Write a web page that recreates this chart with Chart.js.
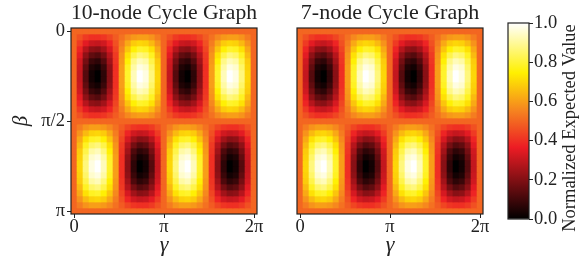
<!DOCTYPE html>
<html>
<head>
<meta charset="utf-8">
<script src="https://cdn.jsdelivr.net/npm/chart.js@4.4.1/dist/chart.umd.min.js"></script>
<style>
  html, body { margin: 0; padding: 0; background: #fff; }
  #wrap { position: relative; width: 585px; height: 260px; }
  .box { position: absolute; top: 0; height: 260px; }
</style>
</head>
<body>
<div id="wrap">
  <div class="box" style="left:0;width:270px"><canvas id="left" width="270" height="260"></canvas></div>
  <div class="box" style="left:270px;width:225px"><canvas id="right" width="225" height="260"></canvas></div>
  <div class="box" style="left:495px;width:90px"><canvas id="cbar" width="90" height="260"></canvas></div>
</div>
<script>
// tick positions are grid indices (31 x 31 grid, gamma 0..2pi, beta 0..pi)
const gammaTickIndex = [0, 15, 30];
const gammaTickLabels = ['0', 'π', '2π'];
const betaTickIndex = [0, 15, 30];
const betaTickLabels = ['0', 'π/2', 'π'];
const cbarTicks = [0, 0.2, 0.4, 0.6, 0.8, 1.0];
const panelTitles = ['10-node Cycle Graph', '7-node Cycle Graph'];
const cbarLabel = 'Normalized Expected Value';

// rows = beta (top to bottom), columns = gamma (left to right)
const cycle10Values = [
  [.50,.50,.50,.50,.50,.50,.50,.50,.50,.50,.50,.50,.50,.50,.50,.50,.50,.50,.50,.50,.50,.50,.50,.50,.50,.50,.50,.50,.50,.50,.50],
  [.50,.46,.42,.40,.40,.41,.44,.48,.52,.56,.59,.60,.60,.58,.54,.50,.46,.42,.40,.40,.41,.44,.48,.52,.56,.59,.60,.60,.58,.54,.50],
  [.50,.42,.35,.31,.30,.32,.38,.46,.54,.62,.68,.70,.69,.65,.58,.50,.42,.35,.31,.30,.32,.38,.46,.54,.62,.68,.70,.69,.65,.58,.50],
  [.50,.38,.28,.22,.21,.25,.33,.44,.56,.67,.75,.79,.78,.72,.62,.50,.38,.28,.22,.21,.25,.33,.44,.56,.67,.75,.79,.78,.72,.62,.50],
  [.50,.35,.22,.15,.13,.18,.28,.42,.58,.72,.82,.87,.85,.78,.65,.50,.35,.22,.15,.13,.18,.28,.42,.58,.72,.82,.87,.85,.78,.65,.50],
  [.50,.32,.18,.09,.07,.13,.25,.41,.59,.75,.88,.93,.91,.82,.68,.50,.32,.18,.09,.07,.13,.25,.41,.59,.75,.88,.93,.91,.82,.68,.50],
  [.50,.31,.15,.05,.03,.09,.22,.40,.60,.78,.91,.97,.95,.85,.69,.50,.31,.15,.05,.03,.09,.22,.40,.60,.78,.91,.97,.95,.85,.69,.50],
  [.50,.30,.13,.03,.00,.07,.21,.40,.60,.79,.93,1.0,.97,.87,.70,.50,.30,.13,.03,.00,.07,.21,.40,.60,.79,.93,1.0,.97,.87,.70,.50],
  [.50,.30,.13,.03,.00,.07,.21,.40,.60,.79,.93,1.0,.97,.87,.70,.50,.30,.13,.03,.00,.07,.21,.40,.60,.79,.93,1.0,.97,.87,.70,.50],
  [.50,.31,.15,.05,.03,.09,.22,.40,.60,.78,.91,.97,.95,.85,.69,.50,.31,.15,.05,.03,.09,.22,.40,.60,.78,.91,.97,.95,.85,.69,.50],
  [.50,.32,.18,.09,.07,.13,.25,.41,.59,.75,.88,.93,.91,.82,.68,.50,.32,.18,.09,.07,.13,.25,.41,.59,.75,.88,.93,.91,.82,.68,.50],
  [.50,.35,.22,.15,.13,.18,.28,.42,.58,.72,.82,.87,.85,.78,.65,.50,.35,.22,.15,.13,.18,.28,.42,.58,.72,.82,.87,.85,.78,.65,.50],
  [.50,.38,.28,.22,.21,.25,.33,.44,.56,.67,.75,.79,.78,.72,.62,.50,.38,.28,.22,.21,.25,.33,.44,.56,.67,.75,.79,.78,.72,.62,.50],
  [.50,.42,.35,.31,.30,.32,.38,.46,.54,.62,.68,.70,.69,.65,.58,.50,.42,.35,.31,.30,.32,.38,.46,.54,.62,.68,.70,.69,.65,.58,.50],
  [.50,.46,.42,.40,.40,.41,.44,.48,.52,.56,.59,.60,.60,.58,.54,.50,.46,.42,.40,.40,.41,.44,.48,.52,.56,.59,.60,.60,.58,.54,.50],
  [.50,.50,.50,.50,.50,.50,.50,.50,.50,.50,.50,.50,.50,.50,.50,.50,.50,.50,.50,.50,.50,.50,.50,.50,.50,.50,.50,.50,.50,.50,.50],
  [.50,.54,.58,.60,.60,.59,.56,.52,.48,.44,.41,.40,.40,.42,.46,.50,.54,.58,.60,.60,.59,.56,.52,.48,.44,.41,.40,.40,.42,.46,.50],
  [.50,.58,.65,.69,.70,.68,.62,.54,.46,.38,.32,.30,.31,.35,.42,.50,.58,.65,.69,.70,.68,.62,.54,.46,.38,.32,.30,.31,.35,.42,.50],
  [.50,.62,.72,.78,.79,.75,.67,.56,.44,.33,.25,.21,.22,.28,.38,.50,.62,.72,.78,.79,.75,.67,.56,.44,.33,.25,.21,.22,.28,.38,.50],
  [.50,.65,.78,.85,.87,.82,.72,.58,.42,.28,.18,.13,.15,.22,.35,.50,.65,.78,.85,.87,.82,.72,.58,.42,.28,.18,.13,.15,.22,.35,.50],
  [.50,.68,.82,.91,.93,.87,.75,.59,.41,.25,.12,.07,.09,.18,.32,.50,.68,.82,.91,.93,.87,.75,.59,.41,.25,.12,.07,.09,.18,.32,.50],
  [.50,.69,.85,.95,.97,.91,.78,.60,.40,.22,.09,.03,.05,.15,.31,.50,.69,.85,.95,.97,.91,.78,.60,.40,.22,.09,.03,.05,.15,.31,.50],
  [.50,.70,.87,.97,1.0,.93,.79,.60,.40,.21,.07,.00,.03,.13,.30,.50,.70,.87,.97,1.0,.93,.79,.60,.40,.21,.07,.00,.03,.13,.30,.50],
  [.50,.70,.87,.97,1.0,.93,.79,.60,.40,.21,.07,.00,.03,.13,.30,.50,.70,.87,.97,1.0,.93,.79,.60,.40,.21,.07,.00,.03,.13,.30,.50],
  [.50,.69,.85,.95,.97,.91,.78,.60,.40,.22,.09,.03,.05,.15,.31,.50,.69,.85,.95,.97,.91,.78,.60,.40,.22,.09,.03,.05,.15,.31,.50],
  [.50,.68,.82,.91,.93,.87,.75,.59,.41,.25,.12,.07,.09,.18,.32,.50,.68,.82,.91,.93,.87,.75,.59,.41,.25,.12,.07,.09,.18,.32,.50],
  [.50,.65,.78,.85,.87,.82,.72,.58,.42,.28,.18,.13,.15,.22,.35,.50,.65,.78,.85,.87,.82,.72,.58,.42,.28,.18,.13,.15,.22,.35,.50],
  [.50,.62,.72,.78,.79,.75,.67,.56,.44,.33,.25,.21,.22,.28,.38,.50,.62,.72,.78,.79,.75,.67,.56,.44,.33,.25,.21,.22,.28,.38,.50],
  [.50,.58,.65,.69,.70,.68,.62,.54,.46,.38,.32,.30,.31,.35,.42,.50,.58,.65,.69,.70,.68,.62,.54,.46,.38,.32,.30,.31,.35,.42,.50],
  [.50,.54,.58,.60,.60,.59,.56,.52,.48,.44,.41,.40,.40,.42,.46,.50,.54,.58,.60,.60,.59,.56,.52,.48,.44,.41,.40,.40,.42,.46,.50],
  [.50,.50,.50,.50,.50,.50,.50,.50,.50,.50,.50,.50,.50,.50,.50,.50,.50,.50,.50,.50,.50,.50,.50,.50,.50,.50,.50,.50,.50,.50,.50]
];
// the 7-node panel reads the same as the 10-node one
const cycle7Values = cycle10Values;

// "hot"-like colormap as it appears in the print
const cmapStops = [
  [0, [0, 0, 0]],
  [0.365, [237, 28, 36]],
  [0.55, [245, 130, 32]],
  [0.746, [255, 240, 0]],
  [1, [255, 255, 255]]
];
function cmap(v) {
  for (let k = 1; k < cmapStops.length; k++) {
    const [t1, c1] = cmapStops[k];
    const [t0, c0] = cmapStops[k - 1];
    if (v <= t1) {
      const f = (v - t0) / (t1 - t0);
      const c = c0.map((a, n) => Math.round(a + (c1[n] - a) * f));
      return `rgb(${c[0]},${c[1]},${c[2]})`;
    }
  }
  return 'rgb(255,255,255)';
}

const ink = '#222';
const serif = '"Liberation Serif", "Times New Roman", serif';
Chart.defaults.font.family = serif;
Chart.defaults.color = ink;

const tickFont = { family: serif, size: 18.5, lineHeight: 1 };

const framePlugin = {
  id: 'frame',
  afterDatasetsDraw(chart) {
    const { ctx, chartArea: a } = chart;
    ctx.save();
    ctx.strokeStyle = ink;
    ctx.lineWidth = 1.2;
    ctx.strokeRect(a.left, a.top, a.right - a.left, a.bottom - a.top);
    ctx.restore();
  }
};

function heatDatasets(values) {
  return values.map((row, i) => ({
    data: row.map((v, j) => ({ x: j, y: [i - 0.5, i + 0.5] })),
    backgroundColor: row.map(cmap),
    borderWidth: 0,
    barPercentage: 1,
    categoryPercentage: 1,
    grouped: false
  }));
}

function panelChart(id, values, title, showY, padLeft, padRight) {
  return new Chart(document.getElementById(id), {
    type: 'bar',
    data: { datasets: heatDatasets(values) },
    options: {
      responsive: false,
      animation: false,
      events: [],
      layout: { padding: { left: padLeft, right: padRight, top: 0, bottom: 0 } },
      plugins: {
        legend: { display: false },
        tooltip: { enabled: false },
        title: {
          display: true, text: title, fullSize: false, color: ink,
          font: { family: serif, size: 22, weight: 'normal', lineHeight: 1.2 },
          padding: { top: 0, bottom: 1.6 }
        }
      },
      scales: {
        x: {
          type: 'linear', min: -0.5, max: 30.5, offset: false,
          grid: { offset: false, drawOnChartArea: false, tickLength: 4, color: ink },
          border: { display: false },
          afterBuildTicks: s => { s.ticks = gammaTickIndex.map(v => ({ value: v })); },
          afterFit: s => { s.height = 46; },
          ticks: { autoSkip: false, maxRotation: 0, padding: 0, color: ink, font: tickFont,
                   callback: (v, k) => gammaTickLabels[k] },
          title: { display: true, text: 'γ', color: ink,
                   font: { family: serif, size: 22, style: 'italic', lineHeight: 1.2 },
                   padding: { top: 0, bottom: 2 } }
        },
        y: {
          type: 'linear', reverse: true, min: -0.5, max: 30.5, offset: false, display: showY,
          grid: { offset: false, drawOnChartArea: false, tickLength: 4, color: ink },
          border: { display: false },
          afterBuildTicks: s => { s.ticks = betaTickIndex.map(v => ({ value: v })); },
          afterFit: s => { s.width = showY ? 71 : 0; },
          ticks: { autoSkip: false, padding: 2, color: ink, font: tickFont,
                   callback: (v, k) => betaTickLabels[k] },
          title: { display: true, text: 'β', color: ink,
                   font: { family: serif, size: 21, style: 'italic', lineHeight: 1.2 },
                   padding: { top: 9, bottom: 0 } }
        }
      }
    },
    plugins: [framePlugin]
  });
}

panelChart('left', cycle10Values, panelTitles[0], true, 0, 13);
panelChart('right', cycle7Values, panelTitles[1], false, 27, 12);

const cbarLabelPlugin = {
  id: 'cbarLabel',
  afterDraw(chart) {
    const { ctx, chartArea: a } = chart;
    ctx.save();
    ctx.translate(a.right + 41, (a.top + a.bottom) / 2 + 7);
    ctx.rotate(-Math.PI / 2);
    ctx.font = '18.5px ' + serif;
    ctx.fillStyle = ink;
    ctx.textAlign = 'center';
    ctx.textBaseline = 'middle';
    ctx.fillText(cbarLabel, 0, 0);
    ctx.restore();
  }
};

new Chart(document.getElementById('cbar'), {
  type: 'bar',
  data: {
    labels: [''],
    datasets: [{
      data: [[cbarTicks[0], cbarTicks[cbarTicks.length - 1]]],
      backgroundColor: c => {
        const y = c.chart.scales.y;
        if (!y || y.top === undefined) return cmap(0.5);
        const g = c.chart.ctx.createLinearGradient(0, y.getPixelForValue(0), 0, y.getPixelForValue(1));
        cmapStops.forEach(([t, rgb]) => g.addColorStop(t, `rgb(${rgb[0]},${rgb[1]},${rgb[2]})`));
        return g;
      },
      borderWidth: 0,
      barPercentage: 1,
      categoryPercentage: 1
    }]
  },
  options: {
    responsive: false,
    animation: false,
    events: [],
    layout: { padding: { left: 13, right: 0, top: 23, bottom: 41 } },
    plugins: { legend: { display: false }, tooltip: { enabled: false } },
    scales: {
      x: { display: false },
      y: {
        position: 'right', min: 0, max: 1,
        grid: { drawOnChartArea: false, tickLength: 4, color: ink },
        border: { display: false },
        afterBuildTicks: s => { s.ticks = cbarTicks.map(v => ({ value: v })); },
        afterFit: s => { s.width = 56; },
        ticks: { autoSkip: false, padding: 1, color: ink, font: tickFont,
                 callback: v => v.toFixed(1) }
      }
    }
  },
  plugins: [framePlugin, cbarLabelPlugin]
});
</script>
</body>
</html>
